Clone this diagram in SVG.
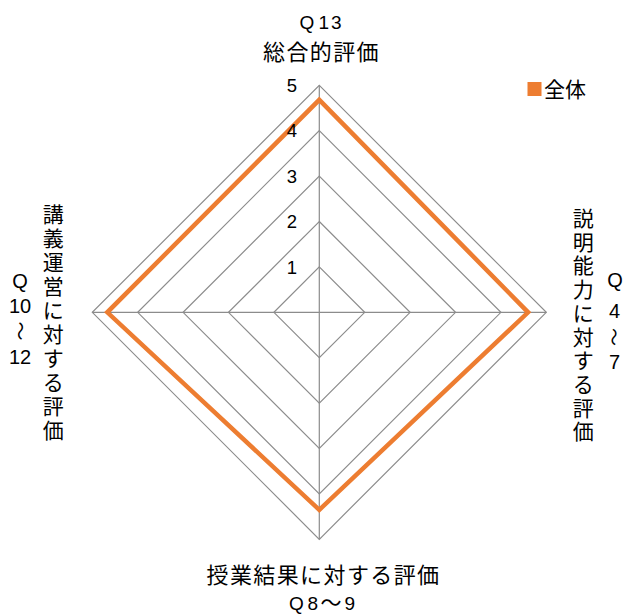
<svg xmlns="http://www.w3.org/2000/svg" width="626" height="614" viewBox="0 0 626 614">
<style>
.cjk{font-family:"Noto Sans CJK JP","Noto Sans CJK SC",sans-serif;fill:#000}
.lat{font-family:"Liberation Sans",Arial,sans-serif;fill:#000}
.grid{fill:none;stroke:#8c8c8c;stroke-width:1.2}
.series{fill:none;stroke:#ED7D31;stroke-width:4.5;stroke-linejoin:miter}
</style>
<rect x="0" y="0" width="626" height="614" fill="#ffffff"/>
<g id="grid">
<polygon class="grid" points="319.3,266.9 364.7,312.3 319.3,357.7 273.9,312.3"/>
<polygon class="grid" points="319.3,221.5 410.1,312.3 319.3,403.1 228.5,312.3"/>
<polygon class="grid" points="319.3,176.1 455.5,312.3 319.3,448.5 183.1,312.3"/>
<polygon class="grid" points="319.3,130.7 500.9,312.3 319.3,493.9 137.7,312.3"/>
<polygon class="grid" points="319.3,85.3 546.3,312.3 319.3,539.3 92.3,312.3"/>
</g>
<g id="connectors">
<line class="grid" x1="319.3" y1="85.3" x2="319.3" y2="539.3"/>
<line class="grid" x1="92.3" y1="312.3" x2="546.3" y2="312.3"/>
</g>
<g id="series-zentai">
<polygon class="series" points="319.3,99.8 528.1,312.3 319.3,509.8 107.3,312.3"/>
</g>
<g id="ticks" class="lat" font-size="18.5" text-anchor="end">
<text x="297" y="92">5</text>
<text x="297" y="137.4">4</text>
<text x="297" y="182.8">3</text>
<text x="297" y="228.2">2</text>
<text x="297" y="273.6">1</text>
</g>
<g id="label-top">
<text class="lat" font-size="19" y="29"><tspan x="299.5">Q</tspan><tspan x="318.5">1</tspan><tspan x="331">3</tspan></text>
<text class="cjk" font-size="22" letter-spacing="1.4" text-anchor="middle" x="321.5" y="60">総合的評価</text>
</g>
<g id="label-right">
<text class="cjk" font-size="21" text-anchor="middle" x="583.3 583.3 583.3 583.3 583.3 583.3 583.3 583.3 583.3 583.3" y="226 249.7 273.4 297.1 320.8 344.5 368.2 391.9 415.6 439.3">説明能力に対する評価</text>
<text class="lat" font-size="20" text-anchor="middle" x="615" y="287">Q</text>
<text class="lat" font-size="20" text-anchor="middle" x="614.5" y="318">4</text>
<text class="cjk" font-size="18" text-anchor="middle" dominant-baseline="central" transform="translate(614.5,337) rotate(90)" x="0" y="0">〜</text>
<text class="lat" font-size="20" text-anchor="middle" x="614.5" y="369">7</text>
</g>
<g id="label-bottom">
<text class="cjk" font-size="22" letter-spacing="1.4" text-anchor="middle" x="323.5" y="583">授業結果に対する評価</text>
<text class="lat" font-size="19" y="609.5"><tspan x="289">Q</tspan><tspan x="307.5">8</tspan><tspan class="cjk" font-size="21" x="320.5">〜</tspan><tspan x="344.5">9</tspan></text>
</g>
<g id="label-left">
<text class="cjk" font-size="21" text-anchor="middle" x="53.3 53.3 53.3 53.3 53.3 53.3 53.3 53.3 53.3 53.3" y="222.4 246.3 270.2 294.1 318 341.9 365.8 389.7 413.6 437.5">講義運営に対する評価</text>
<text class="lat" font-size="20" text-anchor="middle" x="20" y="288">Q</text>
<text class="lat" font-size="20" text-anchor="middle" x="20" y="313">10</text>
<text class="cjk" font-size="19" text-anchor="middle" dominant-baseline="central" transform="translate(21.5,331) rotate(90)" x="0" y="0">〜</text>
<text class="lat" font-size="20" text-anchor="middle" x="20" y="364">12</text>
</g>
<g id="legend">
<rect x="527.5" y="82" width="14" height="14" fill="#ED7D31"/>
<text class="cjk" font-size="21" x="544" y="96.5">全体</text>
</g>
</svg>
